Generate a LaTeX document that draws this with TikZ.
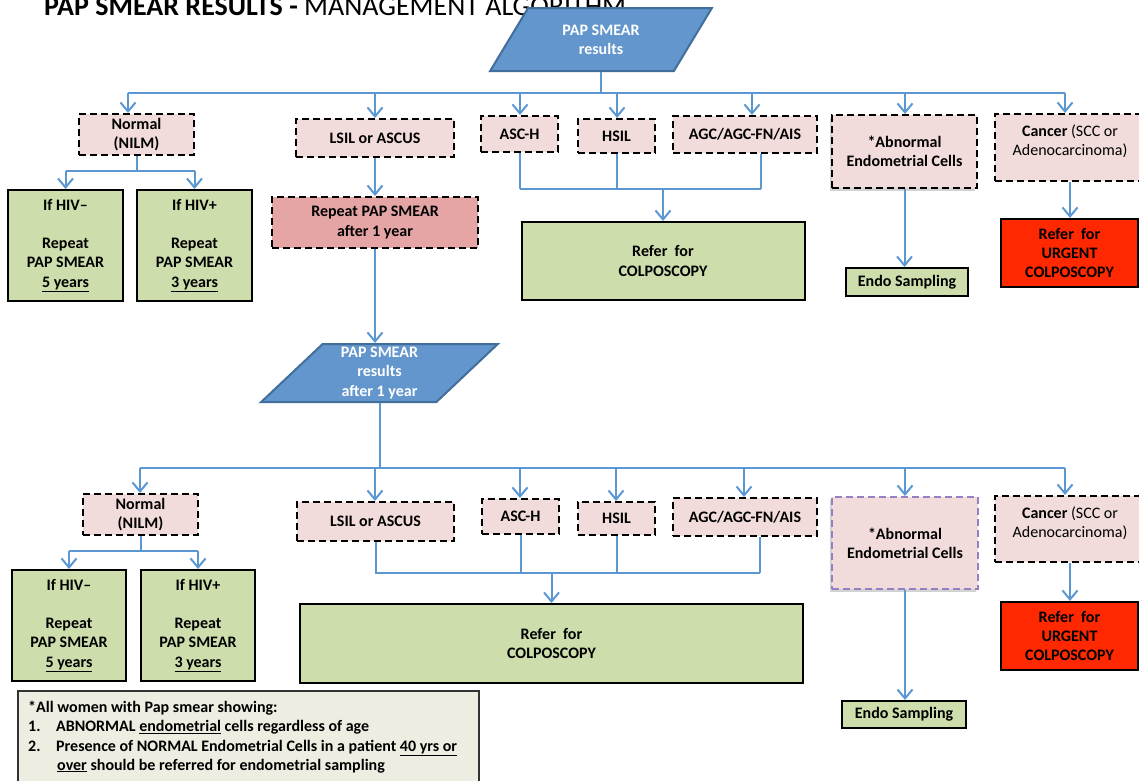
\documentclass[tikz,border=0pt]{standalone}
\usepackage{fontspec}
\setmainfont{Carlito}
\usetikzlibrary{arrows.meta,shapes.geometric,shadows}
\definecolor{pinkc}{RGB}{242,220,219}
\definecolor{greenc}{RGB}{205,221,172}
\definecolor{bluel}{RGB}{91,152,211}
\definecolor{parafill}{RGB}{98,150,204}
\definecolor{paraedge}{RGB}{65,110,155}
\definecolor{repc}{RGB}{229,165,165}
\definecolor{redc}{RGB}{255,40,0}
\definecolor{notec}{RGB}{238,237,226}
\definecolor{purpc}{RGB}{150,128,195}
\begin{document}
\begin{tikzpicture}[x=1pt,y=-1pt,
 every node/.style={font=\fontsize{16}{19.2}\selectfont\bfseries, align=center, inner sep=0pt},
 pinkbox/.style={draw=black, line width=2pt, dash pattern=on 7pt off 4pt, fill=pinkc},
 greenbox/.style={draw=black, line width=2pt, fill=greenc},
 redbox/.style={draw=black, line width=2pt, fill=redc},
 para/.style={trapezium, trapezium stretches=true, draw=paraedge, line width=2pt, fill=parafill, text=white},
 shade/.style={drop shadow={shadow xshift=-2pt, shadow yshift=-3pt, opacity=0.25, fill=black!70}},
 conn/.style={draw=bluel, line width=2pt},
 arr/.style={conn, -{Straight Barb[length=9pt,width=15pt]}},
 notefont/.style={font=\fontsize{16}{19}\selectfont\bfseries, anchor=base west},
]
\useasboundingbox[fill=white] (0,0) rectangle (1139,780);
\node[anchor=base west, font=\fontsize{28}{34}\selectfont] (title) at (44,15) {\textbf{PAP SMEAR RESULTS -} MANAGEMENT ALGORITHM};

% ---------- first level ----------
\node[para, trapezium left angle=56, trapezium right angle=124, minimum width=222pt, minimum height=63pt] (p1) at (601,39.5) {PAP SMEAR\\results};

\node[pinkbox, minimum width=115pt, minimum height=41pt] (nrm1) at (136.5,134.5) {Normal\\(NILM)};
\node[pinkbox, minimum width=158pt, minimum height=38pt] (lsil1) at (375,138) {LSIL or ASCUS};
\node[pinkbox, minimum width=77pt, minimum height=36pt] (asch1) at (519.5,134) {ASC-H};
\node[pinkbox, minimum width=77pt, minimum height=34pt] (hsil1) at (616.5,136) {HSIL};
\node[pinkbox, minimum width=144pt, minimum height=37pt] (agc1) at (745,134.5) {AGC/AGC-FN/AIS};
\node[pinkbox, shade, minimum width=145pt, minimum height=73pt] (abn1) at (904.5,151.5) {*Abnormal\\Endometrial Cells};
\node[pinkbox, minimum width=150pt, minimum height=67pt] (can1) at (1070,147.5) {};
\node (can1t) at (1070,141.5) {Cancer {\mdseries (SCC or}\\{\mdseries Adenocarcinoma)}};

\node[greenbox, minimum width=115pt, minimum height=111pt] (hivn1) at (65.5,245.5) {If HIV--\\[19pt]Repeat\\PAP SMEAR\\\underline{5 years}};
\node[greenbox, minimum width=115pt, minimum height=111pt] (hivp1) at (194.5,245.5) {If HIV+\\[19pt]Repeat\\PAP SMEAR\\\underline{3 years}};
\node[pinkbox, fill=repc, minimum width=206pt, minimum height=51pt] (rep1) at (375,222.5) {Repeat PAP SMEAR\\after 1 year};
\node[greenbox, minimum width=283pt, minimum height=78pt] (ref1) at (663,261) {Refer~ for\\COLPOSCOPY};
\node[greenbox, minimum width=122pt, minimum height=28pt] (endo1) at (907,282) {Endo Sampling};
\node[redbox, minimum width=137pt, minimum height=68pt] (urg1) at (1069.5,253) {Refer~ for\\URGENT\\COLPOSCOPY};

% connectors level 1
\coordinate (b1l) at (128,93);
\coordinate (b1r) at (1065,93);
\draw[conn] (p1.south) -- (p1.south |- b1l);
\draw[conn] (b1l) -- (b1r);
\coordinate (a12) at (375,93);
\coordinate (a13) at (520,93);
\coordinate (a14) at (617,93);
\coordinate (a15) at (752,93);
\coordinate (a16) at (905,93);
\draw[arr] (b1l) -- (b1l |- nrm1.north);
\draw[arr] (a12) -- (a12 |- lsil1.north);
\draw[arr] (a13) -- (a13 |- asch1.north);
\draw[arr] (a14) -- (a14 |- hsil1.north);
\draw[arr] (a15) -- (a15 |- agc1.north);
\draw[arr] (a16) -- (a16 |- abn1.north);
\draw[arr] (b1r) -- (b1r |- can1.north);

\coordinate (s1l) at (65.5,171);
\coordinate (s1r) at (194.5,171);
\draw[conn] (nrm1.south) -- (nrm1.south |- s1l);
\draw[conn] (s1l) -- (s1r);
\draw[arr] (s1l) -- (hivn1.north);
\draw[arr] (s1r) -- (hivp1.north);

\draw[arr] (lsil1.south) -- (rep1.north);

\coordinate (c1l) at (520,189);
\coordinate (c1m) at (663,189);
\coordinate (c1r) at (761,189);
\draw[conn] (asch1.south -| c1l) -- (c1l);
\draw[conn] (hsil1.south) -- (hsil1.south |- c1l);
\draw[conn] (agc1.south -| c1r) -- (c1r);
\draw[conn] (c1l) -- (c1r);
\draw[arr] (c1m) -- (ref1.north);

\draw[arr] (abn1.south) -- (abn1.south |- endo1.north);
\draw[arr] (can1.south) -- (can1.south |- urg1.north);

% ---------- second level ----------
\node[para, trapezium left angle=51, trapezium right angle=129, minimum width=237pt, minimum height=58pt] (p2) at (379.5,373) {PAP SMEAR\\results\\after 1 year};
\draw[arr] (rep1.south) -- (rep1.south |- p2.north);

\node[pinkbox, minimum width=115pt, minimum height=41pt] (nrm2) at (140.5,514.5) {Normal\\(NILM)};
\node[pinkbox, minimum width=157pt, minimum height=39pt] (lsil2) at (375.5,521.5) {LSIL or ASCUS};
\node[pinkbox, minimum width=77pt, minimum height=35pt] (asch2) at (520.5,516.5) {ASC-H};
\node[pinkbox, minimum width=77pt, minimum height=33pt] (hsil2) at (616.5,518.5) {HSIL};
\node[pinkbox, minimum width=144pt, minimum height=38pt] (agc2) at (745,517) {AGC/AGC-FN/AIS};
\node[pinkbox, shade, draw=purpc, minimum width=146pt, minimum height=92pt] (abn2) at (905,543) {*Abnormal\\Endometrial Cells};
\node[pinkbox, minimum width=150pt, minimum height=66pt] (can2) at (1070,529) {};
\node (can2t) at (1070,523) {Cancer {\mdseries (SCC or}\\{\mdseries Adenocarcinoma)}};

\node[greenbox, minimum width=114pt, minimum height=111pt] (hivn2) at (69,625.5) {If HIV--\\[19pt]Repeat\\PAP SMEAR\\\underline{5 years}};
\node[greenbox, minimum width=114pt, minimum height=111pt] (hivp2) at (198,625.5) {If HIV+\\[19pt]Repeat\\PAP SMEAR\\\underline{3 years}};
\node[greenbox, minimum width=503pt, minimum height=79pt] (ref2) at (551.5,643.5) {Refer~ for\\COLPOSCOPY};
\node[greenbox, minimum width=124pt, minimum height=27pt] (endo2) at (904,714.5) {Endo Sampling};
\node[redbox, minimum width=137pt, minimum height=68pt] (urg2) at (1069.5,636) {Refer~ for\\URGENT\\COLPOSCOPY};

\coordinate (b2l) at (140,468);
\coordinate (b2r) at (1065,468);
\draw[conn] (p2.south) -- (p2.south |- b2l);
\draw[conn] (b2l) -- (b2r);
\coordinate (a22) at (375,468);
\coordinate (a23) at (520,468);
\coordinate (a24) at (616,468);
\coordinate (a25) at (744,468);
\coordinate (a26) at (905,468);
\draw[arr] (b2l) -- (b2l |- nrm2.north);
\draw[arr] (a22) -- (a22 |- lsil2.north);
\draw[arr] (a23) -- (a23 |- asch2.north);
\draw[arr] (a24) -- (a24 |- hsil2.north);
\draw[arr] (a25) -- (a25 |- agc2.north);
\draw[arr] (a26) -- (a26 |- abn2.north);
\draw[arr] (b2r) -- (b2r |- can2.north);

\coordinate (s2l) at (69,551);
\coordinate (s2r) at (198,551);
\draw[conn] (nrm2.south) -- (nrm2.south |- s2l);
\draw[conn] (s2l) -- (s2r);
\draw[arr] (s2l) -- (hivn2.north);
\draw[arr] (s2r) -- (hivp2.north);

\coordinate (c2l) at (375,573);
\coordinate (c2m) at (551.5,573);
\coordinate (c2r) at (760,573);
\draw[conn] (lsil2.south) -- (lsil2.south |- c2l);
\draw[conn] (asch2.south) -- (asch2.south |- c2l);
\draw[conn] (hsil2.south) -- (hsil2.south |- c2l);
\draw[conn] (agc2.south -| c2r) -- (c2r);
\draw[conn] (c2l) -- (c2r);
\draw[arr] (c2m) -- (ref2.north);

\draw[arr] (abn2.south) -- (abn2.south |- endo2.north);
\draw[arr] (can2.south) -- (can2.south |- urg2.north);

% ---------- note ----------
\node[draw=black!80, line width=2pt, fill=notec, minimum width=461pt, minimum height=110pt, anchor=north west] (note) at (17,690) {};
\node[notefont] (nt1) at (28,712) {*All women with Pap smear showing:};
\node[notefont] (nt2n) at (28,731.5) {1.};
\node[notefont] (nt2) at (56,731.5) {ABNORMAL \underline{endometrial} cells regardless of age};
\node[notefont] (nt3n) at (28,751) {2.};
\node[notefont] (nt3) at (56,751) {Presence of NORMAL Endometrial Cells in a patient \underline{40 yrs or}};
\node[notefont] (nt4) at (57,770) {\underline{over} should be referred for endometrial sampling};
\end{tikzpicture}
\end{document}
